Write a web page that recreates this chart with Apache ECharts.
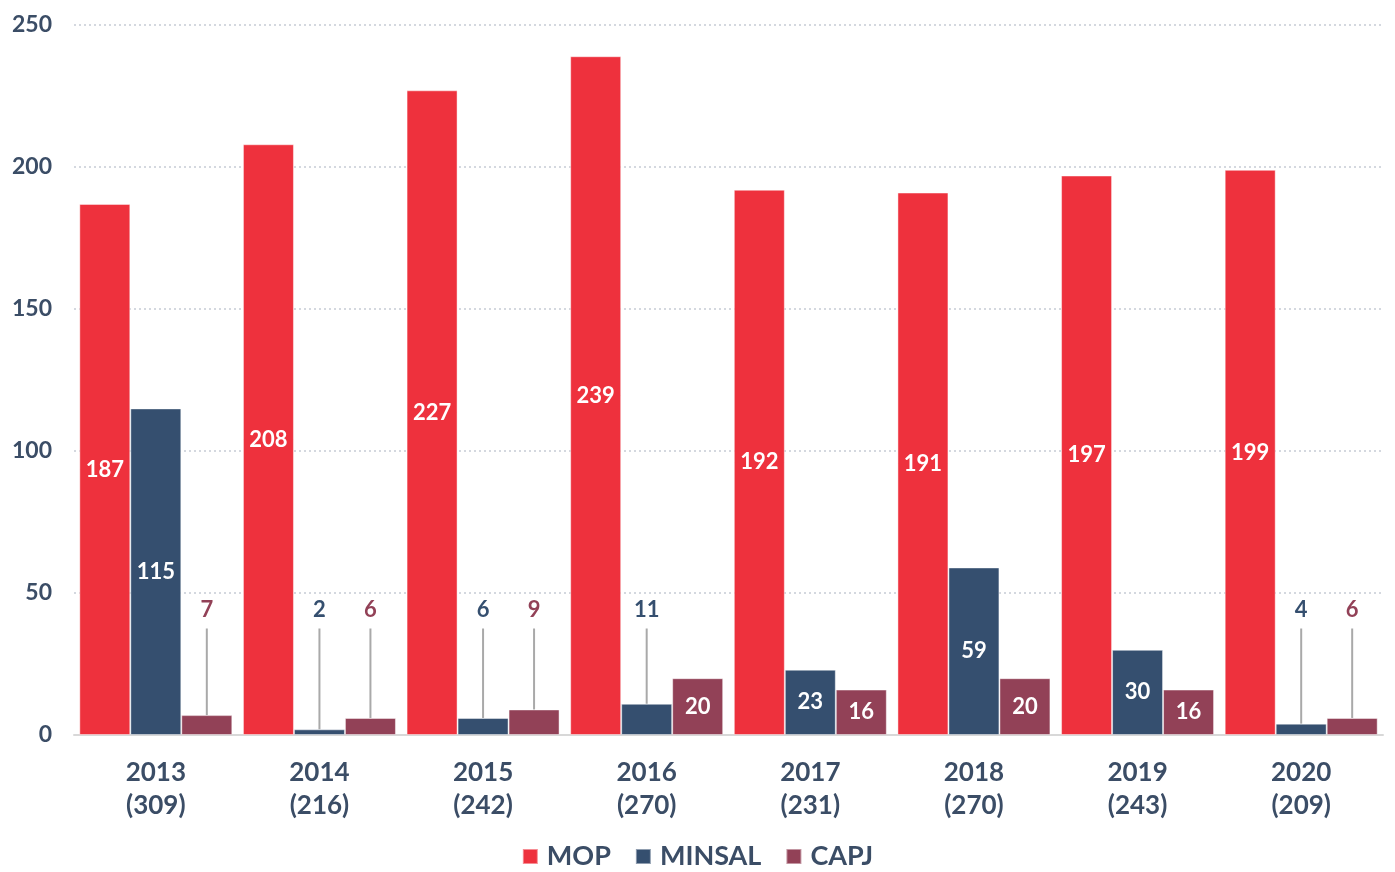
<!DOCTYPE html>
<html>
<head>
<meta charset="utf-8">
<script src="https://cdn.jsdelivr.net/npm/echarts@6/dist/echarts.min.js"></script>
<style>
  html, body { margin: 0; padding: 0; background: #fff; }
  #chart { width: 1395px; height: 872px; }
</style>
</head>
<body>
<div id="chart"></div>
<script>
const years = ['2013', '2014', '2015', '2016', '2017', '2018', '2019', '2020']
const totals = [309, 216, 242, 270, 231, 270, 243, 209]
const mop = [187, 208, 227, 239, 192, 191, 197, 199]
const minsal = [115, 2, 6, 11, 23, 59, 30, 4]
const capj = [7, 6, 9, 20, 16, 20, 16, 6]

const seriesNames = ['MOP', 'MINSAL', 'CAPJ']
const colors = ['#ee313d', '#354f6f', '#924157']
const textColor = '#3b4d66'
const font = 'Lato'
const smallMax = 12      // values below this get a callout above the bar
const calloutText = 44   // value level of the callout text
const calloutTop = 37.5  // value level where the leader line starts
const catGap = 0.065

const chart = echarts.init(document.getElementById('chart'))

// callouts for the small bars: [category index, series index, value]
const callouts = []
;[mop, minsal, capj].forEach((arr, s) => {
  arr.forEach((v, i) => {
    if (v < smallMax) callouts.push([i, s, v])
  })
})

function barSeries(name, data, color) {
  return {
    name,
    type: 'bar',
    data,
    barGap: '0%',
    barCategoryGap: (catGap * 100) + '%',
    itemStyle: { color, borderColor: 'rgba(255,255,255,0.45)', borderWidth: 1 },
    label: {
      show: true,
      position: 'inside',
      color: '#fff',
      fontFamily: font,
      fontWeight: 'bold',
      fontSize: 22,
      formatter: (p) => (p.value < smallMax ? '' : p.value),
    },
    emphasis: { disabled: true },
  }
}

chart.setOption({
  animation: false,
  backgroundColor: '#fff',
  grid: { left: 74, right: 12, top: 25, bottom: 137 },
  legend: {
    data: seriesNames,
    bottom: 2,
    padding: 0,
    left: 'center',
    icon: 'rect',
    itemWidth: 15,
    itemHeight: 15,
    itemGap: 24,
    textStyle: { color: textColor, fontFamily: font, fontSize: 27, fontWeight: 'bold', padding: [0, 0, 0, 4] },
  },
  xAxis: {
    type: 'category',
    data: years.map((y, i) => y + '\n(' + totals[i] + ')'),
    axisLine: { lineStyle: { color: '#d8d8d8', width: 2 } },
    axisTick: { show: false },
    axisLabel: {
      color: textColor,
      fontFamily: font,
      fontSize: 26,
      fontWeight: 'bold',
      lineHeight: 33,
      margin: 21,
    },
  },
  yAxis: {
    type: 'value',
    min: 0,
    max: 250,
    interval: 50,
    axisLine: { show: false },
    axisTick: { show: false },
    splitLine: { lineStyle: { color: '#c6ccd5', type: [2, 3], width: 1.5 } },
    axisLabel: {
      color: textColor,
      fontFamily: font,
      fontSize: 23,
      fontWeight: 'bold',
      margin: 22,
    },
  },
  series: [
    barSeries('MOP', mop, colors[0]),
    barSeries('MINSAL', minsal, colors[1]),
    barSeries('CAPJ', capj, colors[2]),
    {
      type: 'custom',
      name: 'callouts',
      data: callouts,
      encode: { x: 0, y: 2 },
      z: 5,
      silent: true,
      renderItem: (params, api) => {
        const cat = api.value(0)
        const s = api.value(1)
        const v = api.value(2)
        const band = api.size([1, 0])[0]
        const barW = band * (1 - catGap) / 3
        const base = api.coord([cat, v])
        const x = base[0] + (s - 1) * barW
        const top = api.coord([cat, calloutTop])[1]
        const ty = api.coord([cat, calloutText])[1]
        return {
          type: 'group',
          children: [
            {
              type: 'line',
              shape: { x1: x, y1: top, x2: x, y2: base[1] },
              style: { stroke: '#a9a9a9', lineWidth: 2 },
            },
            {
              type: 'text',
              style: {
                x,
                y: ty,
                text: String(v),
                fill: colors[s],
                font: 'bold 22px ' + font,
                textAlign: 'center',
                textVerticalAlign: 'middle',
              },
            },
          ],
        }
      },
    },
  ],
})
</script>
</body>
</html>
